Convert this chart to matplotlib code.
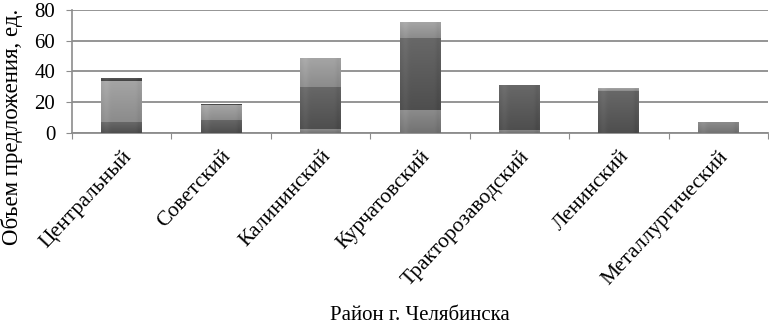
import matplotlib
matplotlib.use("Agg")
import matplotlib.pyplot as plt
import matplotlib.colors as mcolors
import numpy as np

categories = ["Центральный", "Советский", "Калининский", "Курчатовский",
              "Тракторозаводский", "Ленинский", "Металлургический"]
series_a = [0, 0, 2.5, 15, 2, 0, 7]
series_b = [7, 8.5, 27.5, 47, 29, 27.5, 0]
series_c = [27, 9.5, 18.7, 10, 0, 1.5, 0]
series_d = [2, 1, 0, 0, 0, 0, 0]
series = [series_a, series_b, series_c, series_d]
colors = ["#7a7a7a", "#565656", "#939393", "#4a4a4a"]
yticks = [0, 20, 40, 60, 80]

plt.rcParams['font.family'] = ['Liberation Serif', 'DejaVu Serif']

fig = plt.figure(figsize=(7.69, 3.27), dpi=100)
ax = fig.add_axes([72/769, 1-133/327, (768-72)/769, 123/327])

x = np.arange(len(categories))
width = 0.41
bottom = np.zeros(len(categories))
for vals, col in zip(series, colors):
    vals = np.array(vals, dtype=float)
    bars = ax.bar(x, vals, width, bottom=bottom, color=col, edgecolor='none', zorder=3)
    base = np.array(mcolors.to_rgb(col))
    for b, v in zip(bars, vals):
        if v <= 0:
            continue
        x0 = b.get_x(); x1 = x0 + b.get_width()
        y0 = b.get_y(); y1 = y0 + b.get_height()
        n = 50
        t = np.linspace(0, 1, n)[:, None]  # 0 bottom -> 1 top
        hx = np.linspace(0, 1, 30)[None, :]
        light = 0.10 * t + 0.03 * np.exp(-((hx - 0.12) / 0.08) ** 2) - 0.03 * np.exp(-((hx - 0.95) / 0.06) ** 2)
        img = np.clip(base[None, None, :] + light[..., None] - 0.03, 0, 1)
        im = ax.imshow(img, extent=(x0, x1, y0, y1), origin='lower',
                       aspect='auto', zorder=4, interpolation='bilinear')
        im.set_clip_path(b)
    bottom += vals

ax.set_xlim(-0.5, len(categories) - 0.5)
ax.set_ylim(0, 80)
ax.set_yticks(yticks)
ax.set_yticklabels([str(v) for v in yticks], fontsize=15)
ax.yaxis.grid(True, color='#8c8c8c', linewidth=1.3, zorder=0)
ax.set_axisbelow(True)
for s in ['top', 'right']:
    ax.spines[s].set_visible(False)
ax.spines['left'].set_color('#8c8c8c')
ax.spines['bottom'].set_color('#8c8c8c')
ax.spines['left'].set_linewidth(1.2)
ax.spines['bottom'].set_linewidth(1.3)
ax.tick_params(axis='y', length=4, color='#8c8c8c', pad=8)

ax.set_xticks(np.arange(len(categories) + 1) - 0.5, minor=False)
ax.set_xticklabels([])
ax.tick_params(axis='x', which='major', length=4, color='#8c8c8c')
ax.set_xticks(x, minor=True)
ax.set_xticklabels(categories, minor=True, rotation=47, ha='right',
                   rotation_mode='anchor', fontsize=15.5)
ax.tick_params(axis='x', which='minor', length=0, pad=10)

fig.text(420/769, 1-316/327, "Район г. Челябинска", ha='center', va='center', fontsize=15)
fig.text(12/769, 1-245/327, "Объем предложения, ед.", rotation=90,
         ha='center', va='bottom', fontsize=16.5)

fig.savefig("out.png", dpi=100)
